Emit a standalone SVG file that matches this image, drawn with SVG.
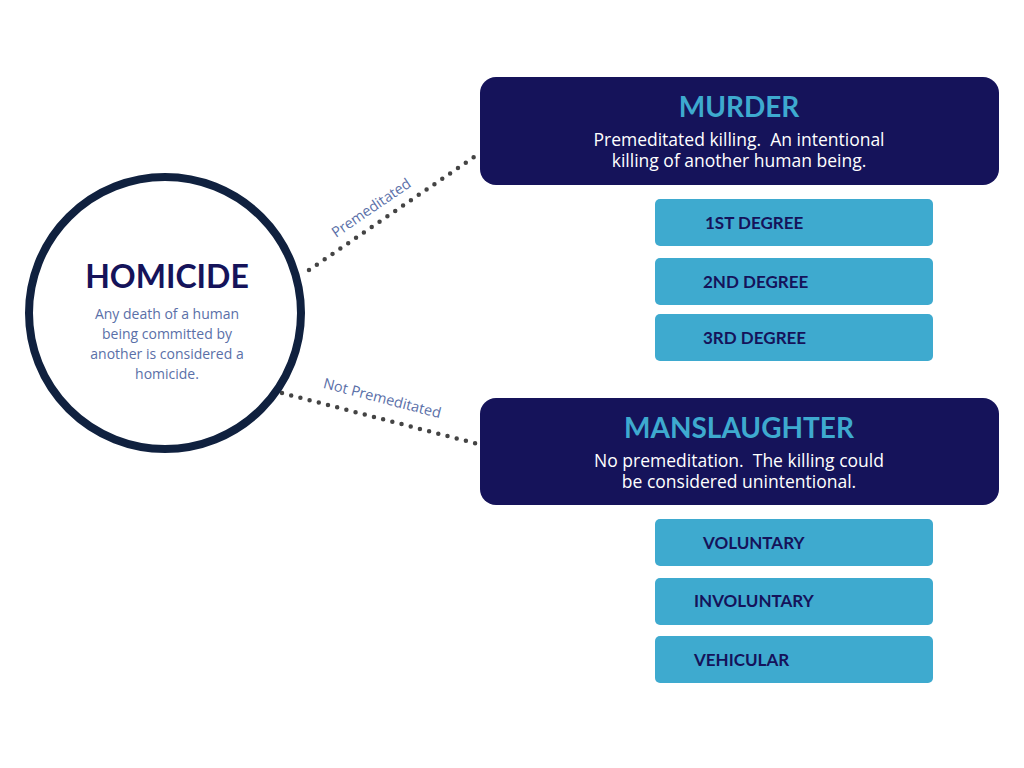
<svg xmlns="http://www.w3.org/2000/svg" width="1024" height="768" viewBox="0 0 1024 768">
<style>
.big{fill:#15135a}
.sub{fill:#3eaacf}
.t{font-family:Lato,"Liberation Sans",sans-serif}
.o{font-family:"Open Sans","Liberation Sans",sans-serif}
.h{font-weight:bold;font-size:28px;fill:#3eaacf;text-anchor:middle}
.d{font-size:17.5px;fill:#fff;text-anchor:middle}
.s{font-weight:bold;font-size:17px;fill:#15135a}
.c{stroke:#444;stroke-width:4.5;stroke-linecap:round;stroke-dasharray:0 9.5;fill:none}
.l{font-size:14.5px;fill:#5a6fa8;text-anchor:middle}
</style>
<rect width="1024" height="768" fill="#fff"/>
<g id="connectors">
<line class="c" x1="309" y1="270" x2="477" y2="155"/>
<line class="c" x1="282" y1="393" x2="478" y2="444"/>
<text class="o l" transform="translate(374,212) rotate(-34.4)">Premeditated</text>
<text class="o l" transform="translate(381,403) rotate(14.6)">Not Premeditated</text>
</g>
<g id="homicide">
<circle cx="165" cy="313" r="136" fill="#fff" stroke="#10213f" stroke-width="8"/>
<text class="t" x="167" y="288" font-size="32" font-weight="bold" fill="#15135a" text-anchor="middle">HOMICIDE</text>
<text class="o" font-size="14" fill="#5a6fa8" text-anchor="middle"><tspan x="167" y="319">Any death of a human</tspan><tspan x="167" y="339">being committed by</tspan><tspan x="167" y="359">another is considered a</tspan><tspan x="167" y="379">homicide.</tspan></text>
</g>
<g id="murder">
<rect class="big" x="480" y="77" width="519" height="108" rx="16"/>
<text class="t h" x="739" y="117">MURDER</text>
<text class="o d" xml:space="preserve"><tspan x="739" y="146">Premeditated killing.  An intentional</tspan><tspan x="739" y="167">killing of another human being.</tspan></text>
</g>
<g id="deg1"><rect class="sub" x="655" y="199" width="278" height="47" rx="5"/><text class="t s" x="705" y="229">1ST DEGREE</text></g>
<g id="deg2"><rect class="sub" x="655" y="258" width="278" height="47" rx="5"/><text class="t s" x="703" y="288">2ND DEGREE</text></g>
<g id="deg3"><rect class="sub" x="655" y="314" width="278" height="47" rx="5"/><text class="t s" x="703" y="344">3RD DEGREE</text></g>
<g id="manslaughter">
<rect class="big" x="480" y="398" width="519" height="107" rx="16"/>
<text class="t h" x="739" y="438">MANSLAUGHTER</text>
<text class="o d" xml:space="preserve"><tspan x="739" y="467">No premeditation.  The killing could</tspan><tspan x="739" y="488">be considered unintentional.</tspan></text>
</g>
<g id="vol"><rect class="sub" x="655" y="519" width="278" height="47" rx="5"/><text class="t s" x="703" y="549">VOLUNTARY</text></g>
<g id="invol"><rect class="sub" x="655" y="578" width="278" height="47" rx="5"/><text class="t s" x="694" y="607">INVOLUNTARY</text></g>
<g id="veh"><rect class="sub" x="655" y="636" width="278" height="47" rx="5"/><text class="t s" x="694" y="666">VEHICULAR</text></g>
</svg>
